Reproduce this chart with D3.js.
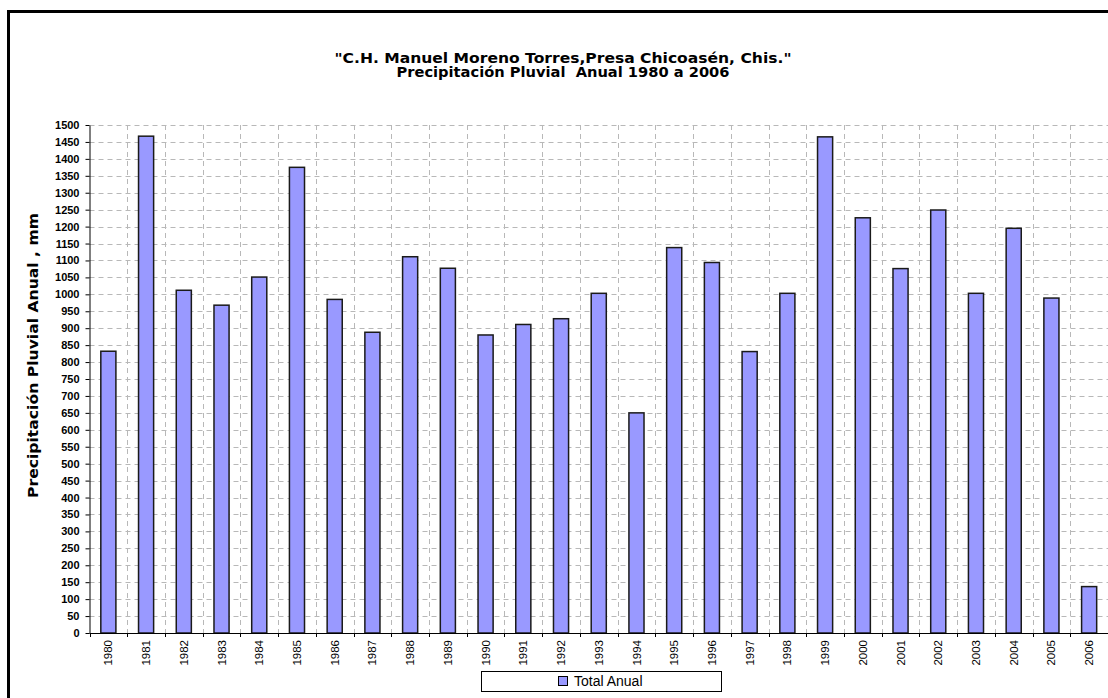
<!DOCTYPE html>
<html>
<head>
<meta charset="utf-8">
<script src="https://cdn.jsdelivr.net/npm/d3@7"></script>
<style>
  body { margin: 0; background: #fff; }
  svg { display: block; font-family: "Liberation Sans", Arial, sans-serif; }
</style>
</head>
<body>
<svg id="chart" width="1108" height="698"></svg>
<script>
// Data
const years = ["1980", "1981", "1982", "1983", "1984", "1985", "1986", "1987", "1988", "1989",
  "1990", "1991", "1992", "1993", "1994", "1995", "1996", "1997", "1998", "1999",
  "2000", "2001", "2002", "2003", "2004", "2005", "2006"];
const totals = [832, 1467, 1012, 968, 1051, 1375, 985, 888, 1111, 1077,
  880, 911, 928, 1003, 650, 1138, 1094, 831, 1003, 1465,
  1226, 1076, 1249, 1003, 1195, 989, 137];
const yTicks = d3.range(0, 1501, 50);
const titleLines = ["\"C.H. Manuel Moreno Torres,Presa Chicoasén, Chis.\"", "Precipitación Pluvial  Anual 1980 a 2006"];
const seriesName = "Total Anual";
const yLabel = "Precipitación Pluvial Anual , mm";

const svg = d3.select("#chart");

// outer frame
svg.append("rect")
    .attr("x", 8.5).attr("y", 11.5)
    .attr("width", 1200).attr("height", 800)
    .attr("fill", "#fff")
    .attr("stroke", "#000")
    .attr("stroke-width", 3);

// Scales
const plotLeft = 89.5, plotRight = 1108, plotTop = 125, plotBottom = 633;
const xCat = d3.scaleBand().domain(years).range([plotLeft, plotRight]).padding(0);
const xBar = d3.scaleBand().domain(years).range([plotLeft, plotRight])
    .paddingInner(0.6).paddingOuter(0.3);
const y = d3.scaleLinear().domain([0, 1500]).range([plotBottom, plotTop]);

// Gridlines
const grid = svg.append("g")
    .attr("stroke", "#b8b8b8")
    .attr("stroke-dasharray", "5,4")
    .attr("stroke-width", 1);

grid.selectAll(".hgrid")
    .data(yTicks.filter(d => d > 0))
    .enter()
    .append("line")
    .attr("x1", plotLeft).attr("x2", plotRight)
    .attr("y1", d => Math.round(y(d)) + 0.5)
    .attr("y2", d => Math.round(y(d)) + 0.5);

grid.selectAll(".vgrid")
    .data(years.slice(1))
    .enter()
    .append("line")
    .attr("x1", d => Math.round(xCat(d)) + 0.5)
    .attr("x2", d => Math.round(xCat(d)) + 0.5)
    .attr("y1", plotTop).attr("y2", plotBottom);

// Bars
svg.selectAll(".bar")
    .data(years)
    .enter()
    .append("rect")
    .attr("class", "bar")
    .attr("x", d => xBar(d))
    .attr("y", (d, i) => y(totals[i]))
    .attr("width", xBar.bandwidth())
    .attr("height", (d, i) => plotBottom - y(totals[i]))
    .attr("fill", "#9999ff")
    .attr("stroke", "#1a1a1a")
    .attr("stroke-width", 1.5);

// Y axis
const yAxis = svg.append("g")
    .attr("transform", `translate(${plotLeft},0)`)
    .call(d3.axisLeft(y).tickValues(yTicks).tickFormat(d3.format("d"))
        .tickSize(4).tickSizeOuter(0).tickPadding(6));
yAxis.select(".domain").attr("stroke", "#000");
yAxis.selectAll("text")
    .attr("font-family", "Liberation Sans, Arial, sans-serif")
    .attr("font-size", 11)
    .attr("font-weight", "bold")
    .attr("fill", "#000");

// X axis (labels under each category, ticks between categories)
const xAxis = svg.append("g")
    .attr("transform", `translate(0,${plotBottom})`)
    .call(d3.axisBottom(xCat).tickSize(0).tickSizeOuter(0));
xAxis.select(".domain").remove();
xAxis.selectAll("text")
    .attr("font-family", "Liberation Sans, Arial, sans-serif")
    .attr("font-size", 11.5)
    .attr("fill", "#000")
    .attr("text-anchor", "end")
    .attr("dy", "0.35em")
    .attr("transform", "translate(0,7) rotate(-90)")
    .attr("x", 0).attr("y", 0);

svg.append("line")
    .attr("x1", plotLeft).attr("x2", plotRight)
    .attr("y1", plotBottom + 0.5).attr("y2", plotBottom + 0.5)
    .attr("stroke", "#000");

svg.selectAll(".xtick")
    .data(years)
    .enter()
    .append("line")
    .attr("x1", d => Math.round(xCat(d)) + 0.5)
    .attr("x2", d => Math.round(xCat(d)) + 0.5)
    .attr("y1", plotBottom).attr("y2", plotBottom + 4)
    .attr("stroke", "#000");

// Title
const titleWidths = [457, 333];
svg.selectAll(".title")
    .data(titleLines)
    .enter()
    .append("text")
    .attr("x", 563)
    .attr("y", (d, i) => 63 + i * 14)
    .attr("text-anchor", "middle")
    .attr("font-family", "DejaVu Sans, sans-serif")
    .attr("font-size", 13.5)
    .attr("font-weight", "bold")
    .attr("textLength", (d, i) => titleWidths[i])
    .attr("lengthAdjust", "spacingAndGlyphs")
    .style("white-space", "pre")
    .text(d => d);

// Y axis label
svg.append("text")
    .attr("transform", "translate(38,355.5) rotate(-90)")
    .attr("text-anchor", "middle")
    .attr("font-family", "DejaVu Sans, sans-serif")
    .attr("font-size", 14)
    .attr("font-weight", "bold")
    .attr("textLength", 285)
    .attr("lengthAdjust", "spacingAndGlyphs")
    .text(yLabel);

// Legend
const legend = svg.append("g");
legend.append("rect")
    .attr("x", 481.5).attr("y", 671.5)
    .attr("width", 240).attr("height", 20)
    .attr("fill", "#fff")
    .attr("stroke", "#000");
legend.append("rect")
    .attr("x", 558.5).attr("y", 676.5)
    .attr("width", 9).attr("height", 9)
    .attr("fill", "#9999ff")
    .attr("stroke", "#000");
legend.append("text")
    .attr("x", 574).attr("y", 686)
    .attr("font-size", 14)
    .text(seriesName);
</script>
</body>
</html>
